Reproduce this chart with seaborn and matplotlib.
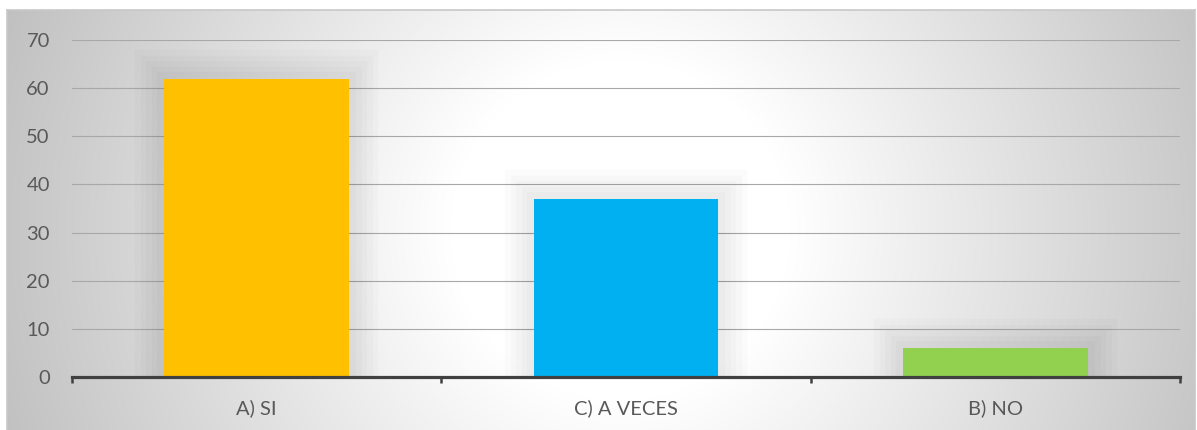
import numpy as np
import pandas as pd
import matplotlib
matplotlib.use("Agg")
import matplotlib.pyplot as plt
import matplotlib.patheffects as pe
import seaborn as sns

# Survey answers and counts
categories = ["A) SI", "C) A VECES", "B) NO"]
counts = [62, 37, 6]
bar_colors = ["#FFC000", "#00B0F0", "#92D050"]
y_ticks = [0, 10, 20, 30, 40, 50, 60, 70]

sns.set_theme(style="white")
plt.rcParams["font.family"] = ["Lato", "DejaVu Sans"]

W, H = 1197, 430
fig = plt.figure(figsize=(W / 100, H / 100), dpi=100)
fig.patch.set_facecolor("white")

# Radial grey-to-white backdrop of the chart area
bg = fig.add_axes([7 / W, 0, (W - 9) / W, 420 / H], zorder=-2)
xs = np.arange(7, W - 2)
ys = np.arange(10, H)
X, Y = np.meshgrid(xs, ys)
r = np.hypot(X - 620, Y - 230)
shade = np.clip(255 - 0.13 * np.clip(r - 170, 0, None), 188, 255) / 255.0
bg.imshow(np.dstack([shade, shade, shade]), aspect="auto",
          extent=[0, 1, 0, 1], origin="upper", interpolation="bilinear")
bg.set_xlim(0, 1)
bg.set_ylim(0, 1)
bg.set_xticks([])
bg.set_yticks([])
for s in bg.spines.values():
    s.set_color("#c8c8c8")
    s.set_linewidth(1.2)
bg.spines["bottom"].set_visible(False)

# Plot axes
ax = fig.add_axes([72 / W, (H - 377) / H, (1180 - 72) / W, (377 - 40) / H])
ax.set_facecolor("none")

df = pd.DataFrame({"categoria": categories, "valor": counts})
sns.barplot(data=df, x="categoria", y="valor", hue="categoria",
            palette=bar_colors, width=0.5, legend=False, saturation=1,
            ax=ax, zorder=3)

# Soft glow around each bar
glow = [pe.Stroke(linewidth=w, foreground="black", alpha=0.015, joinstyle="miter")
        for w in (42, 34, 26, 18, 10)]
for patch in ax.patches:
    patch.set_linewidth(0)
    patch.set_path_effects(glow + [pe.Normal()])

ax.set_xlim(-0.5, len(categories) - 0.5)
ax.set_ylim(0, 70)
ax.set_yticks(y_ticks)
ax.set_xlabel("")
ax.set_ylabel("")

ax.set_axisbelow(True)
ax.yaxis.grid(True, color="#a8a8a8", linewidth=0.8)
ax.xaxis.grid(False)

for side in ("top", "right", "left"):
    ax.spines[side].set_visible(False)
ax.spines["bottom"].set_color("#404040")
ax.spines["bottom"].set_linewidth(2.3)
ax.spines["bottom"].set_zorder(5)

ax.tick_params(axis="y", length=0, pad=16, labelsize=14.5, labelcolor="#595959")
ax.tick_params(axis="x", which="major", length=0, pad=16, labelsize=14.5,
               labelcolor="#595959")
ax.set_xticks(np.arange(-0.5, len(categories), 1.0), minor=True)
ax.tick_params(axis="x", which="minor", length=4.5, width=1.8,
               color="#404040", direction="out", bottom=True)

fig.savefig("out.png", dpi=100, facecolor="white")
